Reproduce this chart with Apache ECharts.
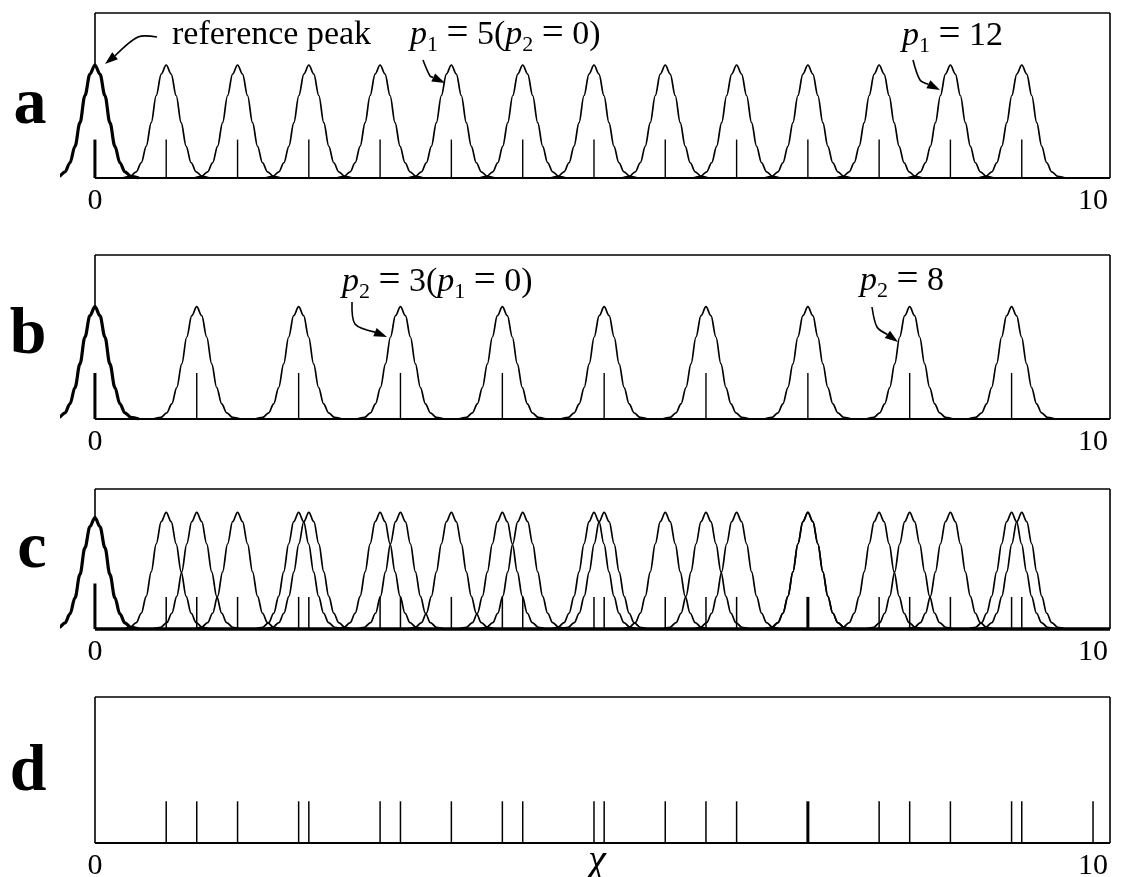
<!DOCTYPE html>
<html><head><meta charset="utf-8">
<script src="https://cdn.jsdelivr.net/npm/echarts@6/dist/echarts.min.js"></script>
<style>html,body{margin:0;padding:0;background:#fff}#c{width:1121px;height:877px}</style>
</head><body><div id="c"></div>
<script>
// ---------- data ----------
const xTickLabels = [0, 10];
const refPos = 0;
const p1Pos = [0.714, 1.429, 2.143, 2.857, 3.571, 4.286, 5.000, 5.714, 6.429, 7.143, 7.857, 8.571, 9.286];
const p2Pos = [1.020, 2.041, 3.061, 4.082, 5.102, 6.122, 7.143, 8.163, 9.184];
const wrapPos = [10];
// peak profile: [offset from centre, relative height]
const peakShape = [[-0.44,0],[-0.36,0.015],[-0.30,0.055],[-0.25,0.135],[-0.20,0.28],[-0.15,0.49],[-0.10,0.73],[-0.05,0.92],[0,1],
                   [0.05,0.92],[0.10,0.73],[0.15,0.49],[0.20,0.28],[0.25,0.135],[0.30,0.055],[0.36,0.015],[0.44,0]];
const peakHeight = 1;
const refPeakHeightC = 0.955;
const stickHeightA = 0.34;
const stickHeightB = 0.41;
const stickHeightC = 0.275;
const refStickHeightC = 0.39;
const stickHeightD = 1;

// ---------- layout ----------
const FONT = '"Liberation Serif", "Times New Roman", serif';
const xMin = -0.33, xFrameMin = 0, xMax = 10.17;
const grids = [
  {left:62, right:11, top:13,  height:165, outerBoundsMode:'none'},
  {left:62, right:11, top:255, height:164, outerBoundsMode:'none'},
  {left:62, right:11, top:489, height:140, outerBoundsMode:'none'},
  {left:62, right:11, top:697, height:146, outerBoundsMode:'none'}
];
const yMaxs = [1.46, 1.46, 1.2, 3.5];
const baseWidths = [2.2, 2.2, 3.5, 2];
const edgeW = 1.6;

const xAxes = [], yAxes = [];
grids.forEach((g, i) => {
  xAxes.push({
    gridIndex:i, type:'value', min:xMin, max:xMax, position:'bottom',
    axisLine:{show:false}, axisTick:{show:false}, splitLine:{show:false},
    axisLabel:{show:true, customValues:xTickLabels, margin:8, color:'#000', fontFamily:FONT, fontSize:30}
  });
  yAxes.push({
    gridIndex:i, type:'value', min:0, max:yMaxs[i],
    axisLine:{show:false}, axisTick:{show:false}, splitLine:{show:false}, axisLabel:{show:false}
  });
});

const series = [];
// frame of each panel (drawn through the axes' own scale)
grids.forEach((g, i) => {
  const yM = yMaxs[i];
  const ls = w => ({color:'#000', width:w, type:'solid'});
  const lines = [
    [{coord:[xFrameMin, yM], lineStyle:ls(edgeW)}, {coord:[xMax, yM]}],
    [{coord:[xMax, 0], lineStyle:ls(edgeW)}, {coord:[xMax, yM]}],
    [{coord:[xFrameMin, 0], lineStyle:ls(baseWidths[i])}, {coord:[xMax, 0]}]
  ];
  const leftFrom = i === 3 ? 0 : (i === 2 ? refPeakHeightC : peakHeight);
  lines.push([{coord:[xFrameMin, leftFrom], lineStyle:ls(edgeW)}, {coord:[xFrameMin, yM]}]);
  series.push({
    type:'line', xAxisIndex:i, yAxisIndex:i, data:[[xFrameMin, 0]], showSymbol:false, silent:true,
    lineStyle:{width:0}, z:5,
    markLine:{silent:true, symbol:['none','none'], label:{show:false}, animation:false, data:lines}
  });
});

function peak(gi, centre, h, bold) {
  series.push({
    type:'line', xAxisIndex:gi, yAxisIndex:gi,
    data: peakShape.map(([dx, r]) => [centre + dx, r * h]),
    smooth:0.35, smoothMonotone:'x', symbol:'none', silent:true,
    lineStyle:{color:'#000', width: bold ? 3.2 : 1.7}, z: bold ? 3 : 2
  });
}
function sticks(gi, positions, h, baseWidth) {
  const uniq = [];
  positions.forEach(p => {
    const u = uniq.find(q => Math.abs(q[0] - p) < 1e-6);
    if (u) u[2] += 1; else uniq.push([p, h, 1]);
  });
  series.push({
    type:'custom', xAxisIndex:gi, yAxisIndex:gi, silent:true,
    encode:{x:0, y:1}, data:uniq,
    renderItem:(params, api) => {
      const x = api.value(0), hh = api.value(1), m = api.value(2);
      const a = api.coord([x, 0]), b = api.coord([x, hh]);
      return {type:'line', shape:{x1:a[0], y1:a[1], x2:b[0], y2:b[1]},
        style:{stroke:'#000', lineWidth: baseWidth * m}};
    }, z:4
  });
}

// panel a
peak(0, refPos, peakHeight, true);
p1Pos.forEach(p => peak(0, p, peakHeight, false));
sticks(0, [refPos], stickHeightA, 3);
sticks(0, p1Pos, stickHeightA, 1.4);
// panel b
peak(1, refPos, peakHeight, true);
p2Pos.forEach(p => peak(1, p, peakHeight, false));
sticks(1, [refPos], stickHeightB, 3);
sticks(1, p2Pos, stickHeightB, 1.4);
// panel c
peak(2, refPos, refPeakHeightC, true);
p1Pos.forEach(p => peak(2, p, peakHeight, false));
p2Pos.forEach(p => peak(2, p, peakHeight, false));
sticks(2, [refPos], refStickHeightC, 3);
sticks(2, p1Pos.concat(p2Pos), stickHeightC, 1.5);
// panel d
sticks(3, p1Pos.concat(p2Pos, wrapPos), stickHeightD, 1.5);

// ---------- annotations ----------
const rich = {
  i:{fontFamily:FONT, fontStyle:'italic', fontSize:34, fill:'#000'},
  n:{fontFamily:FONT, fontSize:34, fill:'#000'},
  e:{fontFamily:FONT, fontSize:39, fill:'#000'},
  s:{fontFamily:FONT, fontSize:22, fill:'#000', padding:[20,0,0,0]}
};
function label(x, y, text) {
  return {type:'text', x:x, y:y, silent:true,
    style:{text:text, rich:rich, fill:'#000', verticalAlign:'middle', align:'left'}};
}
function arrow(pts) {
  const n = pts.length, [x1,y1] = pts[n-2], [x2,y2] = pts[n-1];
  const ang = Math.atan2(y2-y1, x2-x1), L = 13, W = 4.5;
  const bx = x2 - L*Math.cos(ang), by = y2 - L*Math.sin(ang);
  const px = -Math.sin(ang)*W, py = Math.cos(ang)*W;
  const linePts = pts.slice(0, n-1).concat([[bx, by]]);
  return [
    {type:'polyline', silent:true, shape:{points:linePts, smooth:0.3}, style:{stroke:'#000', lineWidth:1.6, fill:null}},
    {type:'polygon', silent:true, shape:{points:[[x2,y2],[bx+px,by+py],[bx-px,by-py]]}, style:{fill:'#000'}}
  ];
}
function letter(x, y, t) {
  return {type:'text', x:x, y:y, silent:true,
    style:{text:t, font:'bold 66px ' + FONT, fill:'#000', align:'center', verticalAlign:'middle'}};
}
const graphics = [
  letter(30, 106, 'a'), letter(28, 336, 'b'), letter(32, 550, 'c'), letter(28, 773, 'd'),
  {type:'text', x:597, y:861, silent:true, style:{text:'χ', font:'italic 40px ' + FONT, fill:'#000', align:'center', verticalAlign:'middle'}},
  {type:'text', x:172, y:35, silent:true, style:{text:'reference peak', font:'34px ' + FONT, fill:'#000', verticalAlign:'middle'}},
  label(410, 35, '{i|p}{s|1}{n| }{e|=}{n| 5(}{i|p}{s|2}{n| }{e|=}{n| 0)}'),
  label(902, 36, '{i|p}{s|1}{n| }{e|=}{n| 12}'),
  label(342, 282, '{i|p}{s|2}{n| }{e|=}{n| 3(}{i|p}{s|1}{n| }{e|=}{n| 0)}'),
  label(860, 281, '{i|p}{s|2}{n| }{e|=}{n| 8}')
].concat(
  arrow([[157,37],[138,37],[105,64]]),
  arrow([[423,60],[430,76],[445,83]]),
  arrow([[913,60],[920,80],[940,90]]),
  arrow([[352,302],[355,324],[387,337]]),
  arrow([[872,307],[877,327],[898,342]])
);

const chart = echarts.init(document.getElementById('c'), null, {renderer:'canvas'});
chart.setOption({
  animation:false, backgroundColor:'#fff',
  grid:grids, xAxis:xAxes, yAxis:yAxes, series:series, graphic:graphics
});
</script></body></html>
